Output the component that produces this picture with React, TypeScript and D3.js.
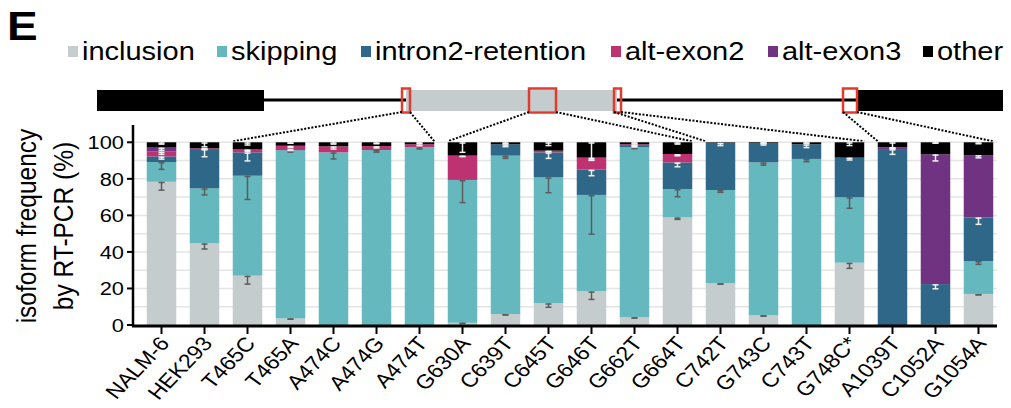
import React from "react";
import * as d3 from "d3";

// Isoform frequencies (%) per sample, stacked bottom to top
const categories = ["NALM-6", "HEK293", "T465C", "T465A", "A474C", "A474G", "A474T", "G630A", "C639T", "C645T", "G646T", "G662T", "G664T", "C742T", "G743C", "C743T", "G748C*", "A1039T", "C1052A", "G1054A"];
const inclusion = [78.4, 44.7, 27.0, 3.6, 0, 0, 0, 1.2, 6.0, 11.9, 18.4, 4.2, 58.9, 22.8, 5.3, 0, 34.1, 0, 0, 17.0];
const skipping = [10.8, 30.1, 54.7, 92.0, 94.5, 95.8, 97.3, 78.2, 86.7, 68.9, 52.8, 93.1, 15.5, 51.1, 83.7, 90.9, 35.8, 0, 0.3, 18.0];
const intron2Retention = [3.1, 21.5, 12.8, 0.7, 0, 0, 0, 0, 6.2, 13.7, 13.8, 0.7, 14.6, 25.8, 10.6, 8.0, 21.7, 96.3, 22.1, 23.9];
const altExon2 = [2.6, 0.4, 1.6, 1.8, 3.3, 2.1, 1.6, 13.3, 0, 0.9, 6.6, 0.9, 4.6, 0, 0, 0, 0, 0, 0, 0];
const altExon3 = [2.2, 0, 0, 0, 0, 0, 0, 0, 0, 0, 0, 0, 0, 0, 0, 0, 0, 1.0, 71.0, 34.1];
const other = [2.9, 3.3, 3.9, 1.9, 2.2, 2.1, 1.1, 7.3, 1.1, 4.6, 8.4, 1.1, 6.4, 0.3, 0.4, 1.1, 8.4, 2.7, 6.6, 7.0];

// Standard deviations, drawn below each segment top
const inclusionSD = [4.6, 3.1, 4.6, 0.4, 0, 0, 0, 0.3, 0.5, 2.2, 4.4, 0.4, 1.1, 0.4, 0.4, 0, 3.1, 0, 0, 0.5];
const skippingSD = [4.0, 3.6, 13.0, 1.0, 3.6, 1.2, 1.0, 12.4, 1.5, 8.4, 21.5, 0.8, 4.2, 1.3, 1.5, 1.5, 6.0, 0, 0, 1.8];
const intron2RetentionSD = [1.5, 4.2, 4.7, 0.8, 0, 0, 0, 0, 1.3, 3.3, 3.3, 0.5, 2.4, 1.5, 1.1, 1.8, 1.3, 2.9, 2.6, 3.8];
const altExon2SD = [1.5, 0.3, 1.0, 1.0, 1.5, 1.0, 0.8, 0.5, 0, 0.5, 1.5, 0.5, 1.0, 0, 0, 0, 0, 0, 0, 0];
const altExon3SD = [1.5, 0, 0, 0, 0, 0, 0, 0, 0, 0, 0, 0, 0, 0, 0, 0, 0, 0.8, 3.6, 1.5];
const otherSD = [1.0, 2.5, 1.5, 0.5, 1.0, 0.8, 0.5, 5.5, 0.8, 1.8, 9.7, 0.5, 1.0, 0, 0.3, 0.5, 1.8, 3.0, 0.5, 0.8];

const seriesKeys = ["inclusion", "skipping", "intron2-retention", "alt-exon2", "alt-exon3", "other"];
const seriesValues = [inclusion, skipping, intron2Retention, altExon2, altExon3, other];
const seriesSD = [inclusionSD, skippingSD, intron2RetentionSD, altExon2SD, altExon3SD, otherSD];
const seriesColors = ["#c5cccd", "#64b8be", "#2e6787", "#bf3272", "#6f3382", "#000000"];
const errColors = ["#5c5c5c", "#5c5c5c", "#f2f2f2", "#f2f2f2", "#f2f2f2", "#f2f2f2"];
const yTicks = [0, 20, 40, 60, 80, 100];

// Mutation regions on the gene model: [first sample, last sample]
const regionGroups = [["T465C", "A474T"], ["G630A", "G664T"], ["C742T", "G748C*"], ["A1039T", "G1054A"]];

const FONT = "'Liberation Sans', Arial, Helvetica, sans-serif";
const SX = 1.15;

function Txt({ x, y, rot = 0, sx = SX, children, ...rest }: any) {
  return (
    <text transform={`translate(${x},${y}) scale(${sx},1) rotate(${rot})`} fontFamily={FONT} {...rest}>
      {children}
    </text>
  );
}

export default function App() {
  const W = 1011, H = 408;
  const axisX = 133, axisEnd = 997;
  const x = d3.scaleBand<string>().domain(categories).range([axisX, 1007]).paddingInner(0.314).paddingOuter(0.32);
  const y = d3.scaleLinear().domain([0, 100]).range([325, 142.3]);

  const rows = categories.map((c, i) => {
    const r: any = { cat: c };
    seriesKeys.forEach((k, s) => (r[k] = seriesValues[s][i]));
    return r;
  });
  const stacked = d3.stack().keys(seriesKeys)(rows);
  const bw = x.bandwidth();

  // gene model coordinates (exon / intron layout in px)
  const geneY = 100;
  const boxes = [
    { x0: 402, x1: 410 },
    { x0: 529, x1: 556 },
    { x0: 614, x1: 621 },
    { x0: 843, x1: 857 },
  ];

  const legendX = [68, 217, 361, 611, 768, 923];

  return (
    <svg width={W} height={H} style={{ position: "absolute", left: 0, top: 0, background: "#fff" }}>
      <Txt x={7} y={40} fontSize={40} fontWeight="bold">E</Txt>

      {/* legend */}
      {seriesKeys.map((k, i) => (
        <g key={k}>
          <rect x={legendX[i]} y={46} width={10} height={11} fill={seriesColors[i]} />
          <Txt x={legendX[i] + 14} y={59.5} fontSize={25} sx={1.16}>{k}</Txt>
        </g>
      ))}

      {/* gene model */}
      <line x1={264} x2={856} y1={geneY} y2={geneY} stroke="#000" strokeWidth={3} />
      <rect x={97} y={90} width={167} height={21} fill="#000" />
      <rect x={856} y={90} width={147} height={21} fill="#000" />
      <rect x={406} y={90} width={211} height={21} fill="#c5cccd" />
      {boxes.map((b, i) => (
        <rect key={i} x={b.x0} y={88.5} width={b.x1 - b.x0} height={24} fill="none" stroke="#e23a2c" strokeWidth={2.5} />
      ))}
      {regionGroups.map((g, i) => {
        const b = boxes[i];
        const lx = x(g[0])!;
        const rx = x(g[1])! + bw;
        return (
          <g key={i} stroke="#000" strokeWidth={2} strokeDasharray="2,1.6" fill="none">
            <line x1={b.x0} y1={112} x2={lx} y2={y(100) - 1} />
            <line x1={b.x1} y1={112} x2={rx} y2={y(100) - 1} />
          </g>
        );
      })}

      {/* gridlines */}
      {d3.range(10, 101, 10).map((v) => (
        <line key={v} x1={axisX} x2={axisEnd} y1={y(v)} y2={y(v)} stroke="#e5e5e5" strokeWidth={1.5} />
      ))}

      {/* stacked bars */}
      {stacked.map((layer, s) => (
        <g key={layer.key} fill={seriesColors[s]}>
          {layer.map((d: any, i: number) =>
            d[1] - d[0] > 0 ? (
              <rect key={i} x={x(categories[i])} y={y(d[1])} width={bw} height={y(d[0]) - y(d[1])} />
            ) : null
          )}
        </g>
      ))}

      {/* error bars */}
      {stacked.map((layer, s) => (
        <g key={"e" + layer.key} stroke={errColors[s]} strokeWidth={1.5}>
          {layer.map((d: any, i: number) => {
            const sd = seriesSD[s][i];
            if (!(sd > 0) || d[1] - d[0] <= 0) return null;
            const cx = x(categories[i])! + bw / 2;
            const y0 = y(d[1]);
            const y1 = y(d[1] - sd);
            return (
              <g key={i}>
                <line x1={cx} x2={cx} y1={y0} y2={y1} />
                <line x1={cx - 3} x2={cx + 3} y1={y1} y2={y1} />
                <line x1={cx - 3} x2={cx + 3} y1={y0 + 0.75} y2={y0 + 0.75} />
              </g>
            );
          })}
        </g>
      ))}

      {/* axes */}
      <line x1={axisX} x2={axisX} y1={125} y2={326.5} stroke="#000" strokeWidth={2.5} />
      <line x1={axisX - 1} x2={axisEnd} y1={326} y2={326} stroke="#000" strokeWidth={3} />
      {yTicks.map((t) => (
        <g key={t}>
          <line x1={axisX - 6} x2={axisX} y1={y(t)} y2={y(t)} stroke="#000" strokeWidth={2} />
          <Txt x={axisX - 9} y={y(t) + 7} fontSize={19} textAnchor="end">{t}</Txt>
        </g>
      ))}
      {categories.map((c) => {
        const cx = x(c)! + bw / 2;
        return (
          <g key={c}>
            <line x1={cx} x2={cx} y1={326} y2={334} stroke="#000" strokeWidth={2} />
            <Txt x={cx + 9} y={344} rot={-50} fontSize={20} textAnchor="end">{c}</Txt>
          </g>
        );
      })}

      <Txt x={36} y={226} rot={-90} fontSize={24.5} textAnchor="middle">isoform frequency</Txt>
      <Txt x={73} y={226} rot={-90} fontSize={24.5} textAnchor="middle">by RT-PCR (%)</Txt>
    </svg>
  );
}
